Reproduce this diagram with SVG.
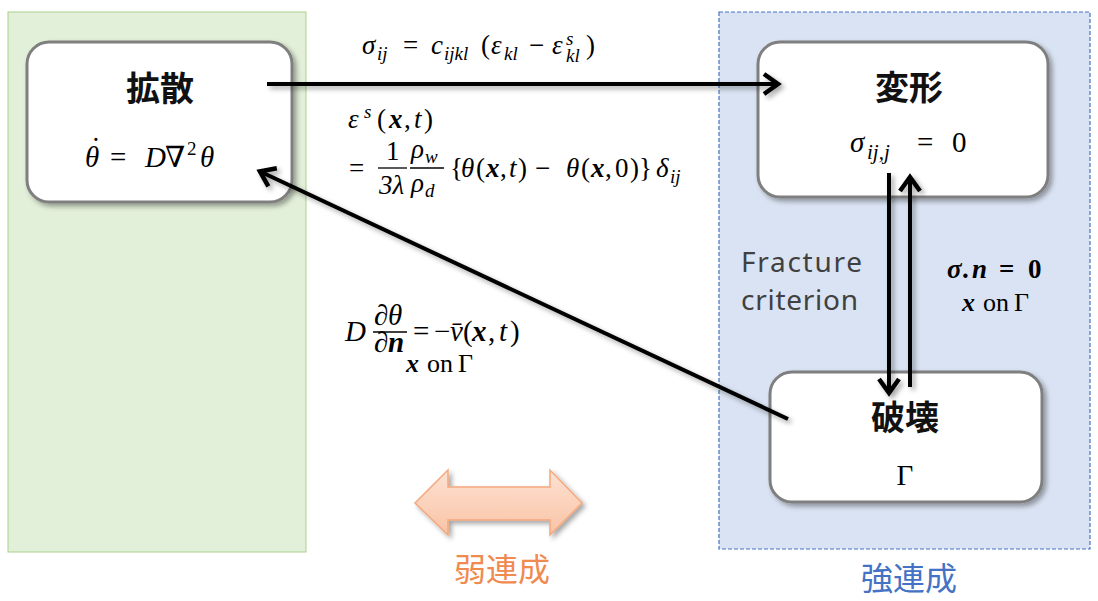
<svg xmlns="http://www.w3.org/2000/svg" width="1098" height="601" viewBox="0 0 1098 601">
<style>
.m{font-family:"Liberation Serif","DejaVu Serif",serif;font-style:italic;font-size:27px;fill:#000}
.r{font-style:normal}
.b{font-weight:bold}
.mb{font-family:"Liberation Serif","DejaVu Serif",serif;font-size:29px;fill:#000}
.s{font-size:19px}
.title{font-family:"Noto Sans CJK JP","Noto Sans",sans-serif;font-size:34px;font-weight:bold;fill:#111;text-anchor:middle}
.box{fill:#fff;stroke:#7f7f7f;stroke-width:3}
.ln{stroke:#000;stroke-width:4;fill:none}
</style>
<defs>
<filter id="sh" filterUnits="userSpaceOnUse" x="0" y="0" width="1098" height="601">
<feDropShadow dx="3" dy="3" stdDeviation="2.5" flood-color="#000" flood-opacity="0.35"/>
</filter>
<marker id="ah" markerUnits="userSpaceOnUse" markerWidth="24" markerHeight="24" viewBox="0 0 24 24" refX="21" refY="12" orient="auto">
<path d="M6,2 L20,12 L6,22" fill="none" stroke="#000" stroke-width="4.5" stroke-linejoin="miter"/>
</marker>
<linearGradient id="og" x1="0" y1="0" x2="0" y2="1">
<stop offset="0" stop-color="#fde2d3"/>
<stop offset="1" stop-color="#f9c3a5"/>
</linearGradient>
</defs>

<g id="weak-region">
<rect x="8" y="12" width="298" height="540" fill="#e2efd9" stroke="#a9d18e" stroke-width="1"/>
</g>
<g id="strong-region">
<rect x="719" y="12" width="371" height="537" fill="#dae3f3" stroke="#4472c4" stroke-width="1.2" stroke-dasharray="4,2"/>
</g>

<g id="node-diffusion">
<rect class="box" x="27" y="42" width="265" height="160" rx="22" filter="url(#sh)"/>
<text class="title" x="160" y="101">拡散</text>
<text class="mb" y="167"><tspan x="85" font-style="italic">θ</tspan><tspan x="91" y="158">˙</tspan><tspan x="110" y="167">=</tspan><tspan x="145" font-style="italic">D</tspan><tspan x="165">∇</tspan><tspan x="187" y="155" font-size="19">2</tspan><tspan x="200" y="167" font-style="italic">θ</tspan></text>
</g>

<g id="node-deformation">
<rect class="box" x="758" y="42" width="290" height="155" rx="22" filter="url(#sh)"/>
<text class="title" x="909" y="100">変形</text>
<text class="mb" y="152"><tspan x="850" font-style="italic">σ</tspan><tspan x="867" y="159" font-size="21" font-style="italic">ij,j</tspan><tspan x="917" y="152">=</tspan><tspan x="952">0</tspan></text>
</g>

<g id="node-fracture">
<rect class="box" x="770" y="372" width="272" height="130" rx="22" filter="url(#sh)"/>
<text class="title" x="905" y="430">破壊</text>
<text class="mb" x="905" y="485" text-anchor="middle">Γ</text>
</g>

<g id="connectors" filter="url(#sh)">
<line class="ln" x1="267" y1="84" x2="779" y2="84" marker-end="url(#ah)"/>
<line class="ln" x1="788" y1="419" x2="259" y2="171" marker-end="url(#ah)"/>
<line class="ln" x1="889" y1="173" x2="889" y2="394" marker-end="url(#ah)"/>
<line class="ln" x1="910" y1="387" x2="910" y2="176" marker-end="url(#ah)"/>
</g>

<g id="label-stress">
<text class="m" y="54"><tspan x="362">σ</tspan><tspan class="s" x="377" y="60">ij</tspan><tspan class="r" x="403" y="54">=</tspan><tspan x="431">c</tspan><tspan class="s" x="444" y="60">ijkl</tspan><tspan class="r" x="481" y="54">(</tspan><tspan x="491">ε</tspan><tspan class="s" x="504" y="60">kl</tspan><tspan class="r" x="529" y="54">−</tspan><tspan x="552">ε</tspan><tspan class="s" x="566" y="45">s</tspan><tspan class="s" x="566" y="62">kl</tspan><tspan class="r" x="586" y="54">)</tspan></text>
</g>

<g id="label-strain">
<text class="m" y="128"><tspan x="348">ε</tspan><tspan class="s" x="364" y="118">s</tspan><tspan class="r" x="377" y="128">(</tspan><tspan class="b" x="389">x</tspan><tspan class="r" x="404">,</tspan><tspan x="414">t</tspan><tspan class="r" x="424">)</tspan></text>
<text class="m"><tspan class="r" x="349" y="177">=</tspan><tspan class="r" x="386" y="160">1</tspan><tspan x="379" y="194">3λ</tspan><tspan x="411" y="158">ρ</tspan><tspan class="s" x="425" y="163">w</tspan><tspan x="411" y="192">ρ</tspan><tspan class="s" x="425" y="197">d</tspan><tspan class="r" x="450" y="177">{</tspan><tspan x="461">θ</tspan><tspan class="r" x="476">(</tspan><tspan class="b" x="486">x</tspan><tspan class="r" x="500">,</tspan><tspan x="509">t</tspan><tspan class="r" x="518">)</tspan><tspan class="r" x="535">−</tspan><tspan x="566">θ</tspan><tspan class="r" x="581">(</tspan><tspan class="b" x="591">x</tspan><tspan class="r" x="605">,</tspan><tspan class="r" x="615">0</tspan><tspan class="r" x="630">)}</tspan><tspan x="656">δ</tspan><tspan class="s" x="670" y="183">ij</tspan></text>
<line x1="378" y1="168" x2="407" y2="168" stroke="#000" stroke-width="1.3"/>
<line x1="410" y1="168" x2="444" y2="168" stroke="#000" stroke-width="1.3"/>
</g>

<g id="label-flux">
<text class="m" style="font-size:29px"><tspan x="345" y="341">D</tspan><tspan class="r" x="374" y="325">∂</tspan><tspan x="388" y="325">θ</tspan><tspan class="r" x="374" y="352">∂</tspan><tspan class="b" x="388" y="352">n</tspan><tspan class="r" x="413" y="341">=</tspan><tspan class="r" x="434">−</tspan><tspan x="450">v̄</tspan><tspan class="r" x="463">(</tspan><tspan class="b" x="472">x</tspan><tspan class="r" x="488">,</tspan><tspan x="499">t</tspan><tspan class="r" x="510">)</tspan></text>
<line x1="373" y1="332" x2="407" y2="332" stroke="#000" stroke-width="1.3"/>
<text class="m" y="372" style="font-size:26px"><tspan class="b" x="406">x</tspan><tspan class="r" x="427">on</tspan><tspan class="r" x="458">Γ</tspan></text>
</g>

<g id="label-fracture-criterion">
<text font-family="'Noto Sans','Liberation Sans',sans-serif" font-size="28" fill="#404040"><tspan x="741" y="272" textLength="121">Fracture</tspan><tspan x="741" y="310" textLength="117">criterion</tspan></text>
</g>

<g id="label-traction">
<text class="m b" y="278"><tspan x="947">σ</tspan><tspan class="r" x="962">.</tspan><tspan x="972">n</tspan><tspan class="r" x="999">=</tspan><tspan class="r" x="1028">0</tspan></text>
<text class="m" y="311" style="font-size:26px"><tspan class="b" x="962">x</tspan><tspan class="r" x="983">on</tspan><tspan class="r" x="1014">Γ</tspan></text>
</g>

<g id="weak-coupling">
<polygon points="415,503 448,470 448,487 550,487 550,470 582,503 550,535 550,520 448,520 448,535" fill="url(#og)" stroke="#f4a87d" stroke-width="1.5" filter="url(#sh)"/>
<text x="502" y="581" text-anchor="middle" font-family="'Noto Sans CJK JP',sans-serif" font-size="32" fill="#f08a4e">弱連成</text>
</g>

<g id="strong-coupling">
<text x="909" y="590" text-anchor="middle" font-family="'Noto Sans CJK JP',sans-serif" font-size="32" fill="#4472c4">強連成</text>
</g>
</svg>
